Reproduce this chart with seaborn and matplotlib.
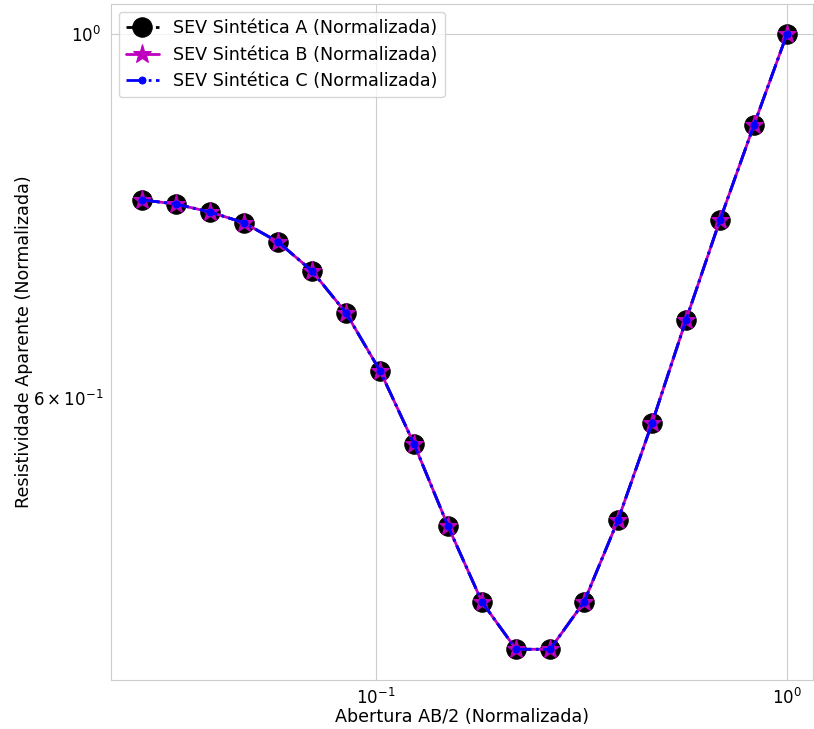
import matplotlib
matplotlib.use("Agg")
import matplotlib.pyplot as plt
import seaborn as sns

# Normalized electrode spacing AB/2
abertura = [0.02695, 0.03261, 0.03946, 0.04774, 0.05775, 0.06988, 0.08454,
            0.1023, 0.1238, 0.1497, 0.1811, 0.2191, 0.2651, 0.3207, 0.3880,
            0.4694, 0.5679, 0.6871, 0.8312, 1.0]

# Normalized apparent resistivity for the three synthetic soundings
rho_a = [0.7924, 0.7877, 0.7790, 0.7673, 0.7470, 0.7171, 0.6761, 0.6233,
         0.5625, 0.5013, 0.4507, 0.4218, 0.4218, 0.4507, 0.5056, 0.5792,
         0.6695, 0.7703, 0.8802, 1.0]
rho_b = list(rho_a)
rho_c = list(rho_a)

labels = ["SEV Sintética A (Normalizada)",
          "SEV Sintética B (Normalizada)",
          "SEV Sintética C (Normalizada)"]

sns.set_style("whitegrid")
plt.rcParams["font.family"] = ["DejaVu Sans"]
plt.rcParams["text.color"] = "black"
plt.rcParams["axes.labelcolor"] = "black"
plt.rcParams["xtick.color"] = "black"
plt.rcParams["ytick.color"] = "black"

fig = plt.figure(figsize=(8.14, 7.29), dpi=100)
ax = fig.add_axes([111 / 814, 1 - 680 / 729, (813 - 111) / 814, (680 - 4) / 729])

series = [
    (rho_a, dict(color="black", marker="o", markersize=14,
                 markeredgecolor="black"), "-."),
    (rho_b, dict(color="m", marker="*", markersize=14,
                 markeredgecolor="m"), "-"),
    (rho_c, dict(color="blue", marker=".", markersize=10,
                 markeredgecolor="blue"), "-."),
]
for (vals, kws, ls), lab in zip(series, labels):
    sns.lineplot(x=abertura, y=vals, ax=ax, linewidth=2, label=lab,
                 legend=False, **kws)
    ax.lines[-1].set_linestyle(ls)

ax.set_xscale("log")
ax.set_yscale("log")
ax.set_xlim(0.02265, 1.157)
ax.set_ylim(0.404, 1.043)

ax.set_xlabel("Abertura AB/2 (Normalizada)", fontsize=12.6, labelpad=0)
ax.set_ylabel("Resistividade Aparente (Normalizada)", fontsize=12.6,
              labelpad=0)
ax.tick_params(axis="both", which="both", labelsize=12, colors="black")
ax.tick_params(axis="x", which="major", pad=2)
ax.tick_params(axis="x", which="minor", color="#bbbbbb")

ax.legend(ax.lines, labels, loc="upper left", fontsize=12.6, frameon=True,
          handlelength=1.9, borderaxespad=0.45)

fig.savefig("out.png", dpi=100)
